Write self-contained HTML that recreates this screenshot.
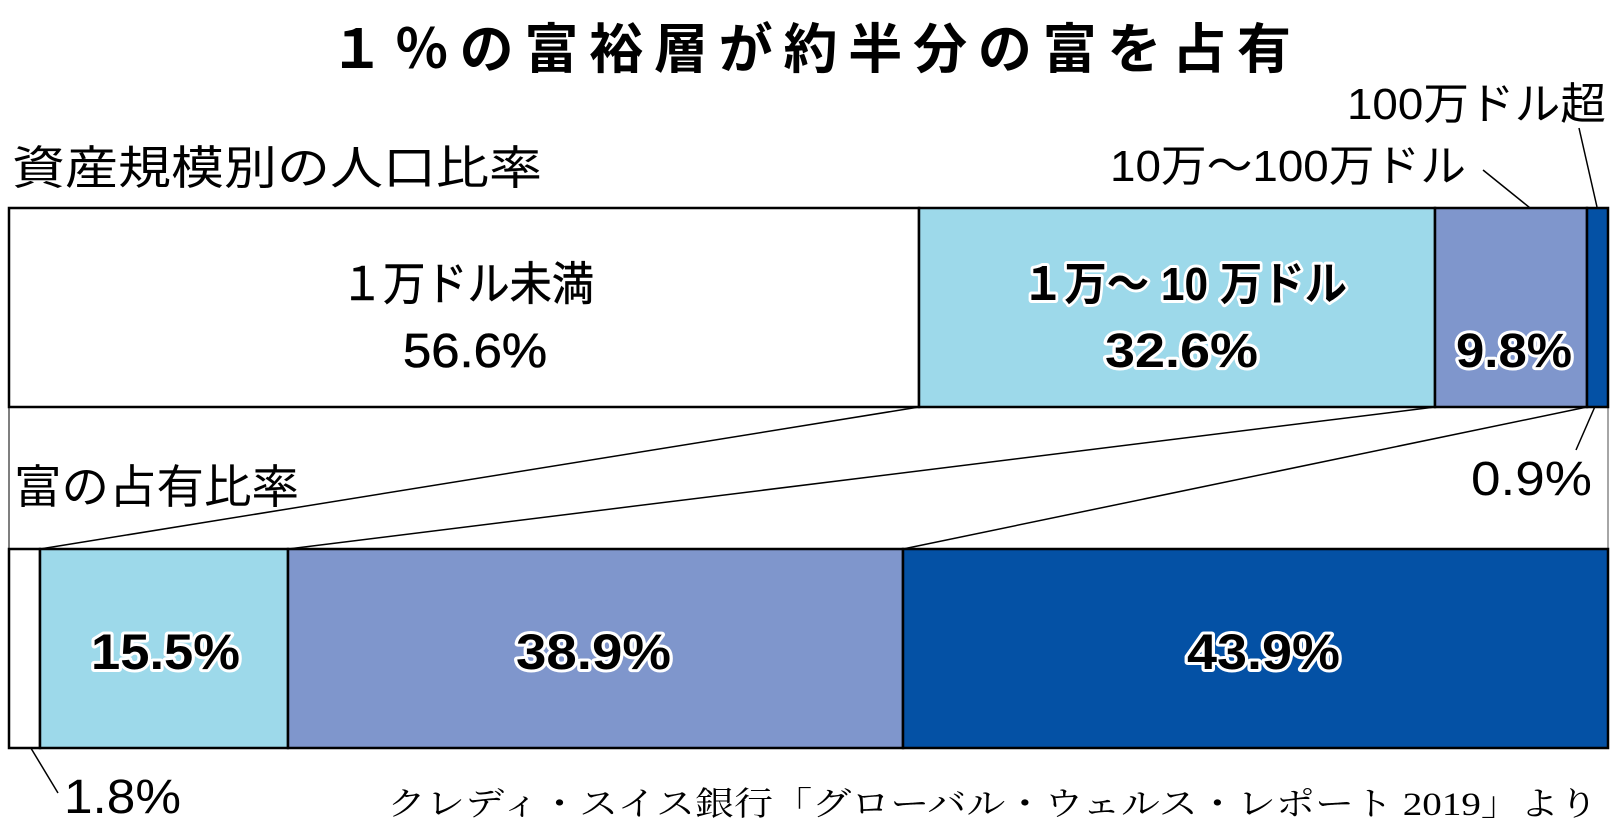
<!DOCTYPE html>
<html><head><meta charset="utf-8"><style>
html,body{margin:0;padding:0;background:#fff}
svg text{font-family:"Liberation Sans","Noto Sans CJK JP",sans-serif}
</style></head><body>
<svg width="1619" height="833" viewBox="0 0 1619 833" xmlns="http://www.w3.org/2000/svg">
<text x="330" y="68" font-size="54" font-weight="bold" textLength="961" lengthAdjust="spacing">１％の富裕層が約半分の富を占有</text>
<text x="12" y="184" font-size="46" textLength="530" lengthAdjust="spacingAndGlyphs">資産規模別の人口比率</text>
<text x="14" y="503" font-size="46" textLength="285" lengthAdjust="spacingAndGlyphs">富の占有比率</text>
<text x="1347" y="119" font-size="44" textLength="259" lengthAdjust="spacingAndGlyphs">100万ドル超</text>
<text x="1110" y="181" font-size="44" textLength="356" lengthAdjust="spacingAndGlyphs">10万～100万ドル</text>
<g stroke="#000" stroke-width="1.5">
<line x1="1483" y1="170" x2="1545" y2="220"/>
<line x1="1579" y1="128" x2="1597" y2="207"/>
<line x1="1600" y1="395" x2="1576" y2="450"/>
<line x1="23" y1="735" x2="58" y2="793"/>
<line x1="919" y1="407" x2="40" y2="549"/>
<line x1="1435" y1="407" x2="288" y2="549"/>
<line x1="1587" y1="407" x2="903" y2="549"/>
</g>
<line x1="9" y1="407" x2="9" y2="549" stroke="#555" stroke-width="1.5"/>
<line x1="1608" y1="407" x2="1608" y2="549" stroke="#888" stroke-width="1.5"/>
<g stroke="#000" stroke-width="2.5">
<rect x="9" y="208" width="910" height="199" fill="#fff"/>
<rect x="919" y="208" width="516" height="199" fill="#9dd9ea"/>
<rect x="1435" y="208" width="152" height="199" fill="#7f96cc"/>
<rect x="1587" y="208" width="21" height="199" fill="#0451a5"/>
<rect x="9" y="549" width="31" height="199" fill="#fff"/>
<rect x="40" y="549" width="248" height="199" fill="#9dd9ea"/>
<rect x="288" y="549" width="615" height="199" fill="#7f96cc"/>
<rect x="903" y="549" width="705" height="199" fill="#0451a5"/>
</g>
<g font-size="46" lengthAdjust="spacingAndGlyphs">
<text x="341" y="300" textLength="253" lengthAdjust="spacingAndGlyphs" stroke="#000" stroke-width="0.6">１万ドル未満</text>
<text x="403" y="367" font-size="48" textLength="144" lengthAdjust="spacingAndGlyphs" stroke="#000" stroke-width="0.6">56.6%</text>
<g font-weight="bold" stroke="#fff" stroke-width="6" paint-order="stroke" stroke-linejoin="round">
<text x="1022" y="300" textLength="325" lengthAdjust="spacingAndGlyphs">１万～ 10 万ドル</text>
<text x="1105" y="367" font-size="48" textLength="153" lengthAdjust="spacingAndGlyphs">32.6%</text>
<text x="1456" y="367" font-size="48" textLength="116" lengthAdjust="spacingAndGlyphs">9.8%</text>
<text x="91" y="669" font-size="50" textLength="149" lengthAdjust="spacingAndGlyphs">15.5%</text>
<text x="516" y="669" font-size="50" textLength="155" lengthAdjust="spacingAndGlyphs">38.9%</text>
<text x="1187" y="669" font-size="50" textLength="153" lengthAdjust="spacingAndGlyphs">43.9%</text>
</g>
</g>
<text x="1471" y="495" font-size="48" textLength="121" lengthAdjust="spacingAndGlyphs">0.9%</text>
<text x="64" y="813" font-size="48" textLength="117" lengthAdjust="spacingAndGlyphs">1.8%</text>
<text x="387" y="815" font-size="33" textLength="1211" lengthAdjust="spacingAndGlyphs" style="font-family:'Liberation Serif','Noto Serif CJK SC',serif">クレディ・スイス銀行「グローバル・ウェルス・レポート 2019」より</text>
</svg>
</body></html>
